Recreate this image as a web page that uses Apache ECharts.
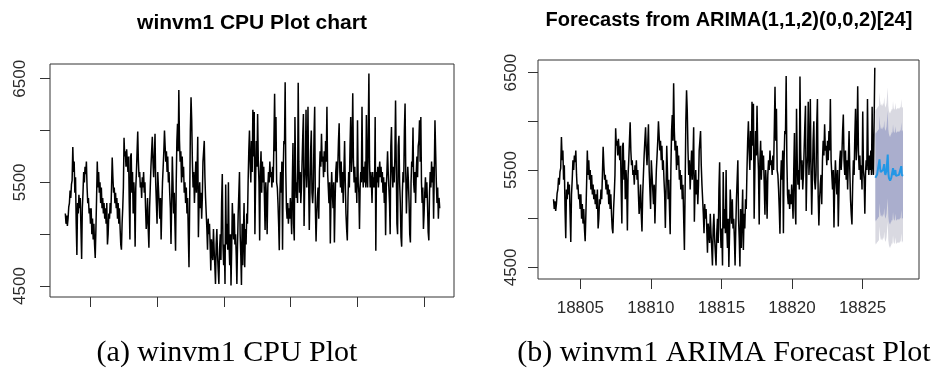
<!DOCTYPE html>
<html><head><meta charset="utf-8">
<script src="https://cdn.jsdelivr.net/npm/echarts@6/dist/echarts.min.js"></script>
<style>html,body{margin:0;padding:0;background:#fff}#c{width:946px;height:372px}</style>
</head><body><div id="c"></div>
<script>
// CPU readings of winvm1, grouped in 23 consecutive equal-length time slices
const cpuSegments = [
  [5200,5100,5180,5080,5150,5260,5300,5420,5350,5480,5520,5840,5600,5700,5400,5550,5100,4800,5300,5200,5380,5250,5350,5050],
  [4760,5250,5400,5600,5500,5650,5580,5700,5450,5300,5350,5200,5250,5100,5250,5000,5150,4950,5100,4900,4770,5050,5350,5700],
  [5450,5600,5400,5500,5300,5450,5250,5350,5200,5300,5150,5250,5100,5300,4900,5000,5200,5150,5300,5200,5450,5740,5550,5400],
  [5450,5300,5400,5250,5350,5150,5300,5100,5250,5050,4900,4850,5100,5250,5450,5930,5750,5800,5650,5820,5700,5600,5750,5300,4950],
  [5750,5780,5400,5600,5200,5500,5350,4880,5450,5600,5800,5990,5700,5550,5600,5450,5500,5350,5550,5450,5600,5400,5500,5250,5050],
  [5150,5350,5050,4870,5250,5450,5650,5800,5940,5700,5550,5750,5970,5500,5300,5100,5600,5450,5300,5150,5350,4950,5250,5500],
  [5650,5800,6000,5850,5700,5800,5600,5750,5500,5600,5400,5250,4906,5300,5750,5500,5200,5400,5100,4840,5500,5900,6065,5800,6390],
  [5900,5700,5800,5500,5750,5550,5650,5400,5500,5300,5450,5200,5350,5000,4680,5300,6000,6320,6100,5700,5450,5600,5300,5500],
  [5700,5400,5600,5940,4970,5300,5500,5250,5400,5150,5350,5700,5800,5900,5550,5350,5200,5050,4850,5150,5000,5100,4900,4650,4950],
  [4950,4750,5050,4850,4700,4520,4900,5050,4800,4650,4520,4850,5000,4750,5300,5580,4900,4700,4900,4520,5480,4900,5100,4850],
  [5500,4900,4700,5000,4505,4850,5300,5100,4950,5200,4900,5000,4800,4520,4900,5200,5400,5600,5000,4800,4510,5100,4700,5000,5300],
  [4680,5050,4900,5200,5100,5500,5800,6000,5700,5500,5900,5600,6200,5750,6180,5000,5500,5900,5650,6160,5700,5500,4940,5600],
  [5800,5400,5700,5500,5650,5350,5040,5500,5350,5000,5450,5600,5500,5700,5550,5600,5450,5650,5500,5900,6355,5800,6130,5500],
  [5450,5300,5100,4845,5400,5600,5400,5700,4850,5600,5900,5870,6465,5600,5250,5150,5300,5100,5250,5150,5350,5200,5000,5500,5880],
  [5100,4940,6130,5600,5350,5500,5300,6460,5700,5400,5600,5300,5450,5700,5950,6160,5080,5500,5650,6200,5450,5650,6230,5500,5040],
  [5400,5800,6000,5400,5300,5450,5950,6230,5250,4930,5200,5350,5450,5150,5600,5800,5650,5970,5700,5750,5550,5800,5600,5900],
  [5700,6230,5600,5450,5300,5500,4910,5350,5600,5400,5250,5500,4920,5300,5600,5700,5500,5650,5900,6070,5600,5450,5700,5400],
  [5600,5300,5600,5900,5500,5200,5050,4940,5350,5600,5450,5850,6130,5600,5800,6360,5700,5500,5650,5400,5550,5300,6100,5500],
  [5400,5050,5450,5600,5500,6230,5600,5450,5650,5500,5700,5450,6150,5550,5450,6000,6550,5700,5450,5600,5500,5300,5600,5450,5550,5450],
  [6130,4840,5600,5500,5650,5450,5600,5700,5550,5650,5500,5600,5400,5550,5300,5500,4990,5450,5600,5800,5600,5450,5300,5000,5850],
  [6035,5600,5450,5650,5500,5750,6290,5700,5100,5000,5850,5950,5500,5300,4970,4880,5400,5600,5500,6000,6260,5600,5200,5450],
  [5650,5500,5300,5000,4920,5500,5700,5650,6030,5500,5400,5600,5300,5600,5750,5550,5850,5900,6100,5700,6130,5500,5300,5450,5050],
  [5200,5400,5550,5350,5500,5300,5020,4940,5400,5600,5450,5700,5500,5650,5150,5600,6100,5800,5500,5300,5450,5150,5350,5250]
];
const seriesStart = 18803.10;
const seriesEnd = 18831.23;
const forecastOrigin = 18825.89;

// ARIMA forecast: point forecast and prediction intervals (48 hourly steps)
const fcMean = [5420,5440,5430,5455,5445,5470,5460,5610,5520,5480,5470,5490,5465,5500,5480,5560,5480,5450,5470,5500,5580,5660,5470,5420,5400,5390,5410,5420,5440,5430,5520,5450,5430,5440,5500,5440,5430,5450,5440,5440,5450,5440,5460,5450,5540,5450,5460,5440];
const fcHi95 = [6105,6130,6120,6150,6135,6160,6150,6300,6210,6170,6160,6180,6155,6190,6170,6250,6170,6140,6160,6190,6270,6350,6160,6110,6090,6080,6100,6110,6130,6120,6210,6140,6120,6130,6190,6130,6120,6140,6130,6130,6140,6130,6150,6140,6230,6140,6150,6130];
const fcHi80 = [5870,5890,5880,5905,5895,5920,5910,6060,5970,5930,5920,5940,5915,5950,5930,6010,5930,5900,5920,5950,6030,6110,5920,5870,5850,5840,5860,5870,5890,5880,5970,5900,5880,5890,5950,5890,5880,5900,5890,5890,5900,5890,5910,5900,5990,5900,5910,5890];
const fcLo80 = [4970,4990,4980,5005,4995,5020,5010,5160,5070,5030,5020,5040,5015,5050,5030,5110,5030,5000,5020,5050,5130,5210,5020,4970,4950,4940,4960,4970,4990,4980,5070,5000,4980,4990,5050,4990,4980,5000,4990,4990,5000,4990,5010,5000,5090,5000,5010,4990];
const fcLo95 = [4730,4750,4740,4765,4755,4780,4770,4920,4830,4790,4780,4800,4775,4810,4790,4870,4790,4760,4780,4810,4890,4970,4780,4730,4710,4700,4720,4730,4750,4740,4830,4760,4740,4750,4810,4750,4740,4760,4750,4750,4760,4750,4770,4760,4850,4760,4770,4750];

const leftXTicks = [18805, 18810, 18815, 18820, 18825, 18830];
const rightXTicks = [18805, 18810, 18815, 18820, 18825];
const yTicks = [4500, 5000, 5500, 6000, 6500];
const yTickLabels = [4500, 5500, 6500];
const chartTitles = ['winvm1 CPU Plot chart', 'Forecasts from ARIMA(1,1,2)(0,0,2)[24]'];
const captions = ['(a) winvm1 CPU Plot', '(b) winvm1 ARIMA Forecast Plot'];

// ---- build
const segSpan = (seriesEnd - seriesStart) / cpuSegments.length;
const cpuPoints = [];
cpuSegments.forEach((seg, k) => seg.forEach((v, j) => cpuPoints.push([seriesStart + (k + j / seg.length) * segSpan, v])));
const trainPoints = cpuPoints.filter(p => p[0] <= forecastOrigin);
const lastT = trainPoints[trainPoints.length - 1][0];
const fcTimes = fcMean.map((_, i) => lastT + (i + 1) / 24);
const fcPoints = fcMean.map((v, i) => [fcTimes[i], v]);

const axisColor = '#333';
const labelColor = '#2b2b2b';
const sans = 'Liberation Sans, Arial, sans-serif';
const plain = v => String(v);

function xAxis(grid, min, max, ticks, showLabels) {
  return {
    gridIndex: grid, type: 'value', min: min, max: max,
    axisLine: { show: false },
    axisTick: { show: true, length: 10, lineStyle: { color: axisColor, width: 1 }, customValues: ticks },
    axisLabel: { show: showLabels, customValues: ticks, formatter: plain, margin: 21, fontSize: 17, color: labelColor, fontFamily: sans },
    splitLine: { show: false }
  };
}
function yAxis(grid, min, max, margin) {
  return {
    gridIndex: grid, type: 'value', min: min, max: max,
    axisLine: { show: false },
    axisTick: { show: true, length: 10, lineStyle: { color: axisColor, width: 1 }, customValues: yTicks },
    axisLabel: { customValues: yTickLabels, formatter: plain, rotate: 90, margin: margin, fontSize: 17, color: labelColor, fontFamily: sans },
    splitLine: { show: false }
  };
}
function txt(x, y, text, font) {
  return { type: 'text', x: x, y: y, style: { text: text, font: font, fill: '#000', textAlign: 'center', align: 'center', textVerticalAlign: 'middle', verticalAlign: 'middle' } };
}

const chart = echarts.init(document.getElementById('c'), null, { renderer: 'canvas' });
chart.setOption({
  animation: false,
  backgroundColor: '#fff',
  grid: [
    { left: 50, top: 64, width: 404, height: 233, show: true, borderColor: axisColor, borderWidth: 1, backgroundColor: 'transparent', outerBoundsMode: 'none', containLabel: false },
    { left: 538, top: 60, width: 381, height: 219, show: true, borderColor: axisColor, borderWidth: 1, backgroundColor: 'transparent', outerBoundsMode: 'none', containLabel: false }
  ],
  xAxis: [
    xAxis(0, 18801.95, 18832.25, leftXTicks, false),
    xAxis(1, 18802.0, 18829.0, rightXTicks, true)
  ],
  yAxis: [
    yAxis(0, 4394, 6642, 21),
    yAxis(1, 4381, 6630, 18)
  ],
  graphic: [
    txt(252, 23, chartTitles[0], 'bold 21px ' + sans),
    txt(729, 20, chartTitles[1], 'bold 20px ' + sans),
    txt(227, 353, captions[0], '30px Liberation Serif, Times New Roman, serif'),
    txt(724, 353, captions[1], '30px Liberation Serif, Times New Roman, serif')
  ],
  series: [
    { type: 'line', xAxisIndex: 0, yAxisIndex: 0, data: cpuPoints, showSymbol: false, symbol: 'none',
      lineStyle: { color: '#000', width: 1.5 }, silent: true },
    { type: 'line', xAxisIndex: 1, yAxisIndex: 1, data: trainPoints, showSymbol: false, symbol: 'none',
      lineStyle: { color: '#000', width: 1.5 }, silent: true },
    { type: 'custom', xAxisIndex: 1, yAxisIndex: 1, data: [fcPoints[0]], silent: true,
      renderItem: function (params, api) {
        function band(lo, hi, color) {
          const pts = [];
          for (let i = 0; i < fcTimes.length; i++) pts.push(api.coord([fcTimes[i], hi[i]]));
          for (let i = fcTimes.length - 1; i >= 0; i--) pts.push(api.coord([fcTimes[i], lo[i]]));
          return { type: 'polygon', shape: { points: pts }, style: { fill: color, stroke: null } };
        }
        return { type: 'group', children: [band(fcLo95, fcHi95, '#D9D9E1'), band(fcLo80, fcHi80, '#AAAECD')] };
      } },
    { type: 'line', xAxisIndex: 1, yAxisIndex: 1, data: fcPoints, showSymbol: false, symbol: 'none',
      lineStyle: { color: '#2297E6', width: 2 }, silent: true }
  ]
});
</script>
</body></html>
